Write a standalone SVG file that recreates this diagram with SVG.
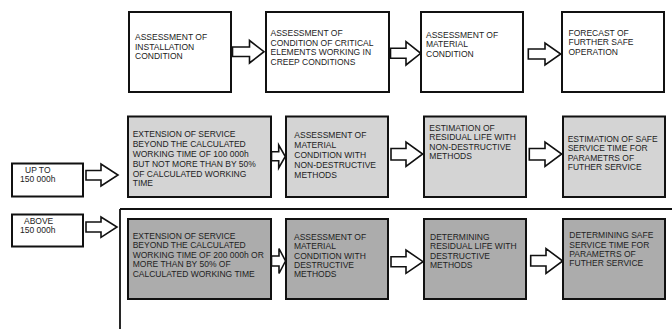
<svg xmlns="http://www.w3.org/2000/svg" width="672" height="329" viewBox="0 0 672 329">
<style>
.box{stroke:#111;stroke-width:2}
.w{fill:#fff}.l{fill:#d4d4d4}.d{fill:#acacac}
.arr{fill:#fff;stroke:#111;stroke-width:1.6;stroke-linejoin:miter}
text{font-family:"Liberation Sans",Arial,sans-serif;font-size:8.5px;fill:#222}
.ln{stroke:#111;stroke-width:1.8;fill:none}
</style>
<rect width="672" height="329" fill="#fff"/>
<g id="t1"><rect class="box w" x="129" y="12" width="102" height="80"/><text x="135" y="40"><tspan x="135">ASSESSMENT OF</tspan><tspan x="135" dy="9.6">INSTALLATION</tspan><tspan x="135" dy="9.6">CONDITION</tspan></text></g>
<g id="t2"><rect class="box w" x="266" y="12" width="123" height="80"/><text x="270.5" y="36"><tspan x="270.5">ASSESSMENT OF</tspan><tspan x="270.5" dy="9.6">CONDITION OF  CRITICAL</tspan><tspan x="270.5" dy="9.6">ELEMENTS WORKING IN</tspan><tspan x="270.5" dy="9.6">CREEP CONDITIONS</tspan></text></g>
<g id="t3"><rect class="box w" x="421" y="12" width="102" height="80"/><text x="426" y="37.7"><tspan x="426">ASSESSMENT OF</tspan><tspan x="426" dy="9.6">MATERIAL</tspan><tspan x="426" dy="9.6">CONDITION</tspan></text></g>
<g id="t4"><rect class="box w" x="562" y="12" width="102" height="80"/><text x="568.5" y="35.5"><tspan x="568.5">FORECAST OF</tspan><tspan x="568.5" dy="9.6">FURTHER SAFE</tspan><tspan x="568.5" dy="9.6">OPERATION</tspan></text></g>

<g id="m1"><rect class="box l" x="128" y="116.5" width="143" height="80.5"/><text x="132.7" y="137.3"><tspan x="132.7">EXTENSION OF SERVICE</tspan><tspan x="132.7" dy="9.8">BEYOND  THE CALCULATED</tspan><tspan x="132.7" dy="9.8">WORKING TIME OF 100 000h</tspan><tspan x="132.7" dy="9.8">BUT NOT MORE THAN BY 50%</tspan><tspan x="132.7" dy="9.8">OF  CALCULATED WORKING</tspan><tspan x="132.7" dy="9.8">TIME</tspan></text></g>
<g id="m2"><rect class="box l" x="286" y="116.5" width="102" height="80.5"/><text x="294.3" y="138.3"><tspan x="294.3">ASSESSMENT OF</tspan><tspan x="294.3" dy="9.8">MATERIAL</tspan><tspan x="294.3" dy="9.8">CONDITION WITH</tspan><tspan x="294.3" dy="9.8">NON-DESTRUCTIVE</tspan><tspan x="294.3" dy="9.8">METHODS</tspan></text></g>
<g id="m3"><rect class="box l" x="424" y="116.5" width="102" height="80.5"/><text x="429.3" y="130.7"><tspan x="429.3">ESTIMATION OF</tspan><tspan x="429.3" dy="9.5">RESIDUAL LIFE WITH</tspan><tspan x="429.3" dy="9.5">NON-DESTRUCTIVE</tspan><tspan x="429.3" dy="9.5">METHODS</tspan></text></g>
<g id="m4"><rect class="box l" x="563" y="116.5" width="102" height="80.5"/><text x="567.7" y="141.7"><tspan x="567.7">ESTIMATION OF SAFE</tspan><tspan x="567.7" dy="9.4">SERVICE TIME FOR</tspan><tspan x="567.7" dy="9.4">PARAMETRS OF</tspan><tspan x="567.7" dy="9.4">FUTHER SERVICE</tspan></text></g>

<g id="b1"><rect class="box d" x="128" y="219" width="143" height="80"/><text x="132.7" y="239"><tspan x="132.7">EXTENSION OF SERVICE</tspan><tspan x="132.7" dy="9.4">BEYOND THE CALCULATED</tspan><tspan x="132.7" dy="9.4">WORKING TIME OF 200 000h OR</tspan><tspan x="132.7" dy="9.4">MORE THAN BY 50% OF</tspan><tspan x="132.7" dy="9.4">CALCULATED WORKING TIME</tspan></text></g>
<g id="b2"><rect class="box d" x="286" y="219" width="102" height="80"/><text x="294" y="240"><tspan x="294">ASSESSMENT OF</tspan><tspan x="294" dy="9.3">MATERIAL</tspan><tspan x="294" dy="9.3">CONDITION WITH</tspan><tspan x="294" dy="9.3">DESTRUCTIVE</tspan><tspan x="294" dy="9.3">METHODS</tspan></text></g>
<g id="b3"><rect class="box d" x="424" y="219" width="102" height="80"/><text x="430" y="240"><tspan x="430">DETERMINING</tspan><tspan x="430" dy="9.3">RESIDUAL LIFE WITH</tspan><tspan x="430" dy="9.3">DESTRUCTIVE</tspan><tspan x="430" dy="9.3">METHODS</tspan></text></g>
<g id="b4"><rect class="box d" x="563" y="219" width="102" height="80"/><text x="569.3" y="238.3"><tspan x="569.3">DETERMINING SAFE</tspan><tspan x="569.3" dy="9.3">SERVICE TIME FOR</tspan><tspan x="569.3" dy="9.3">PARAMETRS OF</tspan><tspan x="569.3" dy="9.3">FUTHER SERVICE</tspan></text></g>

<g id="l1"><rect class="box w" x="12" y="163.5" width="71" height="33"/><text x="25" y="172.5">UP TO</text><text x="20" y="182">150 000h</text></g>
<g id="l2"><rect class="box w" x="12" y="214.5" width="71" height="32"/><text x="24" y="223.5">ABOVE</text><text x="20" y="233">150 000h</text></g>

<g id="connectors">
<path class="ln" d="M120 209H672M120 209V329"/>
<polygon class="arr" points="232.5,47 249.5,47 249.5,40.5 264,51.7 249.5,63 249.5,56.5 232.5,56.5"/>
<polygon class="arr" points="390.5,48.3 406,48.3 406,41.7 420.7,53.3 406,65 406,58.3 390.5,58.3"/>
<polygon class="arr" points="528.3,49 545,49 545,43 560.7,54 545,65 545,59 528.3,59"/>
<polygon class="arr" points="271.5,151.7 278.7,151.7 278.7,145 285.3,156.5 278.7,168 278.7,160.7 271.5,160.7"/>
<polygon class="arr" points="391,148.5 406,148.5 406,142 422.7,154 406,166.5 406,160 391,160"/>
<polygon class="arr" points="529.3,148.5 545,148.5 545,142 561.7,154 545,166.5 545,160 529.3,160"/>
<polygon class="arr" points="86,170.5 101,170.5 101,164 118,175 101,186 101,180 86,180"/>
<polygon class="arr" points="86,222 101,222 101,217 117,227 101,237.3 101,232 86,232"/>
<polygon class="arr" points="271.5,256 279,256 279,248.5 285.5,261 279,273.5 279,266 271.5,266"/>
<polygon class="arr" points="391,256.7 406,256.7 406,250 423,261.7 406,273.3 406,266.7 391,266.7"/>
<polygon class="arr" points="530.7,255.5 546,255.5 546,248.5 562.7,261 546,273.3 546,266 530.7,266"/>
</g>
</svg>
